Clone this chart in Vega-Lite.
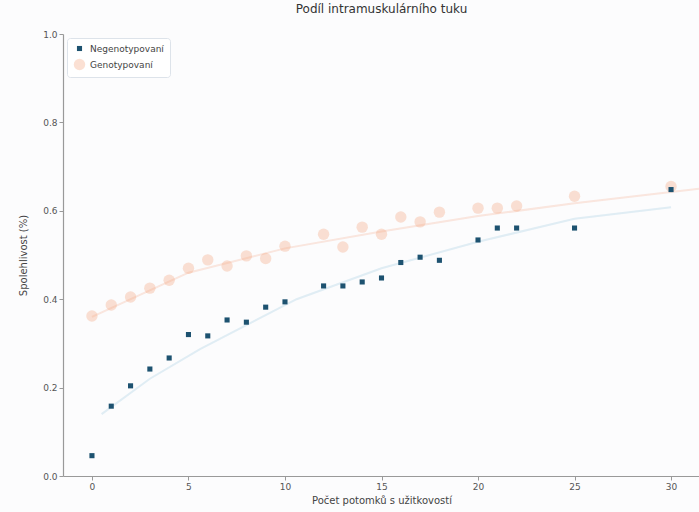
{
  "$schema": "https://vega.github.io/schema/vega-lite/v6.json",
  "width": 637,
  "height": 442,
  "autosize": {"type": "none"},
  "padding": {"left": 63, "top": 34, "right": 0, "bottom": 36},
  "background": "#fcfcfd",
  "title": {"text": "Podíl intramuskulárního tuku", "fontSize": 12, "font": "DejaVu Sans", "fontWeight": "normal", "color": "#333", "offset": 14},
  "config": {
    "view": {"stroke": null},
    "font": "DejaVu Sans",
    "axis": {"grid": false, "domainColor": "#999", "tickColor": "#999", "labelColor": "#555", "titleColor": "#444", "labelFontSize": 9, "titleFontSize": 10, "titleFontWeight": "normal", "tickSize": 4, "domainWidth": 1.2}
  },
  "datasets": {
    "body": [
      {"x": 0, "y": 0.362, "skupina": "Genotypovaní"},
      {"x": 1, "y": 0.387, "skupina": "Genotypovaní"},
      {"x": 2, "y": 0.405, "skupina": "Genotypovaní"},
      {"x": 3, "y": 0.425, "skupina": "Genotypovaní"},
      {"x": 4, "y": 0.443, "skupina": "Genotypovaní"},
      {"x": 5, "y": 0.47, "skupina": "Genotypovaní"},
      {"x": 6, "y": 0.489, "skupina": "Genotypovaní"},
      {"x": 7, "y": 0.475, "skupina": "Genotypovaní"},
      {"x": 8, "y": 0.498, "skupina": "Genotypovaní"},
      {"x": 9, "y": 0.492, "skupina": "Genotypovaní"},
      {"x": 10, "y": 0.52, "skupina": "Genotypovaní"},
      {"x": 12, "y": 0.547, "skupina": "Genotypovaní"},
      {"x": 13, "y": 0.518, "skupina": "Genotypovaní"},
      {"x": 14, "y": 0.563, "skupina": "Genotypovaní"},
      {"x": 15, "y": 0.547, "skupina": "Genotypovaní"},
      {"x": 16, "y": 0.586, "skupina": "Genotypovaní"},
      {"x": 17, "y": 0.575, "skupina": "Genotypovaní"},
      {"x": 18, "y": 0.597, "skupina": "Genotypovaní"},
      {"x": 20, "y": 0.606, "skupina": "Genotypovaní"},
      {"x": 21, "y": 0.606, "skupina": "Genotypovaní"},
      {"x": 22, "y": 0.611, "skupina": "Genotypovaní"},
      {"x": 25, "y": 0.633, "skupina": "Genotypovaní"},
      {"x": 30, "y": 0.655, "skupina": "Genotypovaní"},
      {"x": 0, "y": 0.046, "skupina": "Negenotypovaní"},
      {"x": 1, "y": 0.158, "skupina": "Negenotypovaní"},
      {"x": 2, "y": 0.204, "skupina": "Negenotypovaní"},
      {"x": 3, "y": 0.242, "skupina": "Negenotypovaní"},
      {"x": 4, "y": 0.267, "skupina": "Negenotypovaní"},
      {"x": 5, "y": 0.32, "skupina": "Negenotypovaní"},
      {"x": 6, "y": 0.317, "skupina": "Negenotypovaní"},
      {"x": 7, "y": 0.353, "skupina": "Negenotypovaní"},
      {"x": 8, "y": 0.348, "skupina": "Negenotypovaní"},
      {"x": 9, "y": 0.382, "skupina": "Negenotypovaní"},
      {"x": 10, "y": 0.394, "skupina": "Negenotypovaní"},
      {"x": 12, "y": 0.43, "skupina": "Negenotypovaní"},
      {"x": 13, "y": 0.43, "skupina": "Negenotypovaní"},
      {"x": 14, "y": 0.439, "skupina": "Negenotypovaní"},
      {"x": 15, "y": 0.448, "skupina": "Negenotypovaní"},
      {"x": 16, "y": 0.483, "skupina": "Negenotypovaní"},
      {"x": 17, "y": 0.495, "skupina": "Negenotypovaní"},
      {"x": 18, "y": 0.488, "skupina": "Negenotypovaní"},
      {"x": 20, "y": 0.534, "skupina": "Negenotypovaní"},
      {"x": 21, "y": 0.561, "skupina": "Negenotypovaní"},
      {"x": 22, "y": 0.561, "skupina": "Negenotypovaní"},
      {"x": 25, "y": 0.561, "skupina": "Negenotypovaní"},
      {"x": 30, "y": 0.648, "skupina": "Negenotypovaní"}
    ],
    "trendG": [
      {"x": 0, "y": 0.36}, {"x": 5, "y": 0.46}, {"x": 10, "y": 0.515}, {"x": 15, "y": 0.553},
      {"x": 20, "y": 0.588}, {"x": 25, "y": 0.617}, {"x": 31.5, "y": 0.65}
    ],
    "trendN": [
      {"x": 0.5, "y": 0.14}, {"x": 3, "y": 0.22}, {"x": 5.6, "y": 0.287}, {"x": 10.6, "y": 0.4},
      {"x": 15, "y": 0.47}, {"x": 20, "y": 0.53}, {"x": 25, "y": 0.582}, {"x": 30, "y": 0.608}
    ]
  },
  "layer": [
    {
      "data": {"name": "trendG"},
      "mark": {"type": "line", "color": "#f4a582", "opacity": 0.25, "strokeWidth": 2},
      "encoding": {
        "x": {"field": "x", "type": "quantitative", "scale": {"domain": [-1.5, 31.5], "nice": false}},
        "y": {"field": "y", "type": "quantitative", "scale": {"domain": [0, 1]}}
      }
    },
    {
      "data": {"name": "trendN"},
      "mark": {"type": "line", "color": "#9ecae1", "opacity": 0.3, "strokeWidth": 2},
      "encoding": {
        "x": {"field": "x", "type": "quantitative"},
        "y": {"field": "y", "type": "quantitative"}
      }
    },
    {
      "data": {"name": "body"},
      "mark": {"type": "point", "filled": true, "strokeWidth": 0},
      "encoding": {
        "x": {"field": "x", "type": "quantitative", "title": "Počet potomků s užitkovostí", "scale": {"domain": [-1.5, 31.5], "nice": false}, "axis": {"values": [0, 5, 10, 15, 20, 25, 30], "format": "d"}},
        "y": {"field": "y", "type": "quantitative", "title": "Spolehlivost (%)", "scale": {"domain": [0, 1]}, "axis": {"values": [0, 0.2, 0.4, 0.6, 0.8, 1.0], "format": ".1f", "titlePadding": 14}},
        "color": {"field": "skupina", "type": "nominal", "sort": null, "scale": {"domain": ["Negenotypovaní", "Genotypovaní"], "range": ["#1d5270", "#f4a582"]},
          "legend": {"title": null, "orient": "top-left", "offset": 4, "fillColor": "#ffffff", "strokeColor": "#dde3ea", "padding": 6, "cornerRadius": 3, "labelFontSize": 9, "labelColor": "#444", "symbolSize": 40, "rowPadding": 4}},
        "shape": {"field": "skupina", "type": "nominal", "scale": {"domain": ["Negenotypovaní", "Genotypovaní"], "range": ["square", "circle"]}},
        "size": {"field": "skupina", "type": "nominal", "scale": {"domain": ["Negenotypovaní", "Genotypovaní"], "range": [26, 130]}, "legend": null},
        "opacity": {"field": "skupina", "type": "nominal", "scale": {"domain": ["Negenotypovaní", "Genotypovaní"], "range": [1, 0.35]}, "legend": null}
      }
    }
  ]
}
